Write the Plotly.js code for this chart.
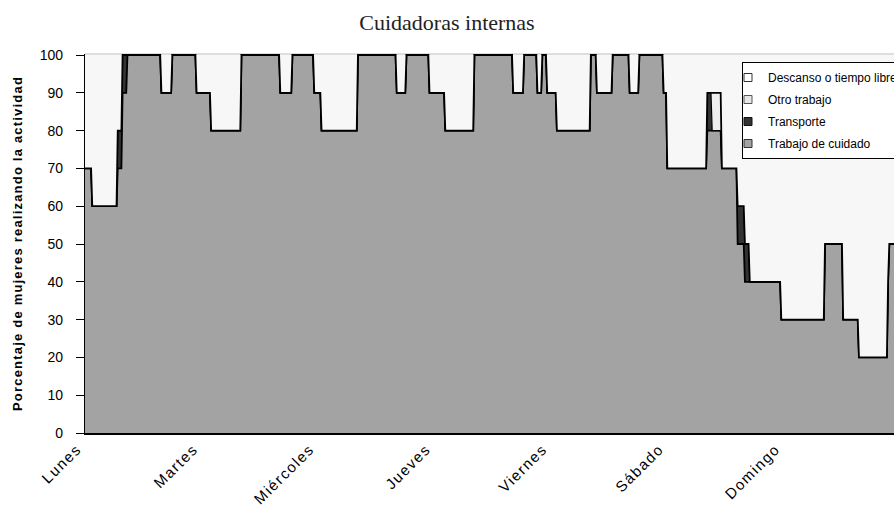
<!DOCTYPE html>
<html>
<head>
<meta charset="utf-8">
<script src="https://cdn.plot.ly/plotly-3.0.1.min.js"></script>
<style>
html,body{margin:0;padding:0;overflow:hidden;background:#fff;}
#chart{width:900px;height:505px;}
</style>
</head>
<body>
<div id="chart"></div>
<script>
// Day labels (one tick per day, 96 quarter-hour slots per day)
const days = ['Lunes','Martes','Miércoles','Jueves','Viernes','Sábado','Domingo'];
const slotsPerDay = 96;

// Run-length segments: number of 15-minute slots in each segment
const segLen = [6,21,4,4,28,9,20,12,25,32,
                10,18,6,30,32,8,19,13,24,32,
                9,11,4,4,8,28,5,13,14,8,
                20,3,33,4,8,13,6,4,26,36,
                15,13,24,1,9];

// Percentage of women doing each activity, per segment
const cuidado = [70,60,70,90,100,90,100,90,80,100,
                 90,100,90,80,100,90,100,90,80,100,
                 90,100,90,100,90,80,100,90,100,90,
                 100,90,70,80,80,70,50,40,40,30,
                 50,30,20,40,50];
const transporte = [0,0,10,10,0,0,0,0,0,0,
                    0,0,0,0,0,0,0,0,0,0,
                    0,0,0,0,0,0,0,0,0,0,
                    0,0,0,10,0,0,10,10,0,0,
                    0,0,0,0,0];
const otro = [0,0,0,0,0,0,0,0,0,0,
              0,0,0,0,0,0,0,0,0,0,
              0,0,0,0,0,0,0,0,0,0,
              0,0,0,0,10,0,0,0,0,0,
              0,0,0,0,0];
const descanso = [30,40,20,0,0,10,0,10,20,0,
                  10,0,10,20,0,10,0,10,20,0,
                  10,0,10,0,10,20,0,10,0,10,
                  0,10,30,10,10,30,40,50,60,70,
                  50,70,80,60,50];

function expand(vals){
  const out = [];
  vals.forEach((v,i)=>{ for(let k=0;k<segLen[i];k++) out.push(v); });
  return out;
}
const nSlots = segLen.reduce((a,b)=>a+b,0);
const x = [];
for(let i=0;i<nSlots;i++) x.push(i);

const areaCommon = {x: x, type:'scatter', mode:'lines', stackgroup:'one', showlegend:false, hoverinfo:'skip'};

const traces = [
  Object.assign({}, areaCommon, {name:'Trabajo de cuidado', y: expand(cuidado), fillcolor:'#a3a3a3', line:{color:'#000', width:1.8}}),
  Object.assign({}, areaCommon, {name:'Transporte', y: expand(transporte), fillcolor:'#333333', line:{color:'#000', width:1.2}}),
  Object.assign({}, areaCommon, {name:'Otro trabajo', y: expand(otro), fillcolor:'#eeeeee', line:{color:'#000', width:1.8}}),
  Object.assign({}, areaCommon, {name:'Descanso o tiempo libre', y: expand(descanso), fillcolor:'#f7f7f7', line:{color:'#f7f7f7', width:0}}),
  // legend entries (small squares, like the original legend)
  {x:[null], y:[null], type:'scatter', mode:'markers', name:'Descanso o tiempo libre', legendgroup:'d',
   marker:{symbol:'square', size:8, color:'#ffffff', line:{color:'#333', width:1}}},
  {x:[null], y:[null], type:'scatter', mode:'markers', name:'Otro trabajo', legendgroup:'o',
   marker:{symbol:'square', size:8, color:'#e6e6e6', line:{color:'#555', width:1}}},
  {x:[null], y:[null], type:'scatter', mode:'markers', name:'Transporte', legendgroup:'t',
   marker:{symbol:'square', size:8, color:'#333333', line:{color:'#111', width:1}}},
  {x:[null], y:[null], type:'scatter', mode:'markers', name:'Trabajo de cuidado', legendgroup:'c',
   marker:{symbol:'square', size:8, color:'#a3a3a3', line:{color:'#333', width:1}}}
];

const layout = {
  width: 900, height: 505,
  margin: {l:85, r:1, t:54, b:72, autoexpand:false},
  paper_bgcolor:'#ffffff', plot_bgcolor:'#ffffff',
  font: {family:'"Liberation Sans", Arial, sans-serif', color:'#000', size:13},
  title: {text:'Cuidadoras internas', font:{family:'"Liberation Serif", "DejaVu Serif", serif', size:22, color:'#222'},
          x: 447/900, xref:'container', xanchor:'center', y: 1-22/505, yref:'container', yanchor:'middle'},
  xaxis: {range:[0, nSlots-1], tickvals: days.map((d,i)=>i*slotsPerDay), ticktext: days, tickangle:-45,
          ticks:'', showgrid:false, zeroline:false, showline:true, linecolor:'#000', linewidth:1.5,
          ticklabelshift:-8, tickfont:{size:15, color:'#000'}, fixedrange:true},
  yaxis: {range:[0, 100.27], tickvals:[0,10,20,30,40,50,60,70,80,90,100], ticks:'outside', ticklen:8, tickcolor:'#000',
          ticklabelstandoff:10, showgrid:false, zeroline:false, showline:true, linecolor:'#000', linewidth:1.2,
          tickfont:{size:14, color:'#000'},
          title:{text:'Porcentaje de mujeres realizando la actividad', font:{size:13, color:'#000', family:'"Liberation Sans", Arial, sans-serif'}, standoff:14}},
  legend: {x:(742-85)/814, xanchor:'left', y:(433-62)/379, yanchor:'top', bgcolor:'#ffffff', bordercolor:'#000', borderwidth:1,
           font:{size:12, color:'#000'}, traceorder:'grouped', tracegroupgap:3, indentation:-15, itemwidth:30},
  shapes: [{type:'line', xref:'paper', yref:'paper', x0:0, x1:1, y0:1, y1:1, line:{color:'#bdbdbd', width:1}, layer:'below'}],
  showlegend: true
};

Plotly.newPlot('chart', traces, layout, {displayModeBar:false, staticPlot:true}).then(()=>{
  const t = document.querySelector('.g-ytitle text');
  if(t){ t.style.fontWeight = 'bold'; t.style.letterSpacing = '1.2px'; }
  document.querySelectorAll('.xtick text').forEach(el=>{ el.style.letterSpacing = '1.5px'; });
});
</script>
</body>
</html>
